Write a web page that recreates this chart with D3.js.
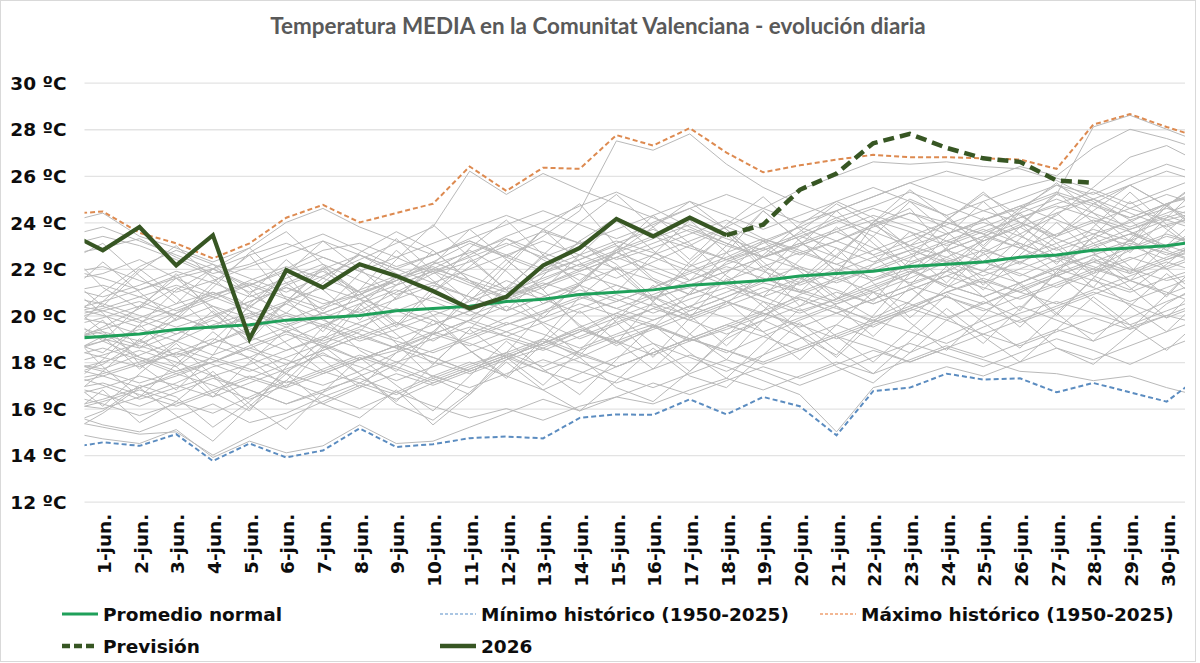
<!DOCTYPE html>
<html>
<head>
<meta charset="utf-8">
<script src="https://cdn.jsdelivr.net/npm/d3@7"></script>
<style>
  html, body { margin: 0; padding: 0; background: #fff; }
  svg { display: block; }
</style>
</head>
<body>
<svg id="chart" width="1200" height="663"></svg>
<script>
// ---------------- DATA ----------------
const title = "Temperatura MEDIA en la Comunitat Valenciana - evolución diaria";
// day 0 = 31-may, day 31 = 1-jul (outside the visible range, clipped at the plot edges)
const days = d3.range(0, 32);
const dayLabels = d3.range(1, 31).map(d => d + "-jun.");
const yTicks = [12, 14, 16, 18, 20, 22, 24, 26, 28, 30];

const normal = [19.0, 19.1, 19.2, 19.4, 19.5, 19.6, 19.8, 19.9, 20.0, 20.2, 20.3, 20.4, 20.6, 20.7, 20.9, 21.0,
                21.1, 21.3, 21.4, 21.5, 21.7, 21.8, 21.9, 22.1, 22.2, 22.3, 22.5, 22.6, 22.8, 22.9, 23.0, 23.2];
const minHist = [14.3, 14.55, 14.4, 14.9, 13.75, 14.5, 13.9, 14.2, 15.15, 14.35, 14.47, 14.73, 14.8, 14.72, 15.6, 15.75,
                 15.73, 16.4, 15.75, 16.5, 16.1, 14.85, 16.75, 16.9, 17.5, 17.25, 17.3, 16.7, 17.1, 16.7, 16.3, 17.5];
const maxHist = [24.35, 24.47, 23.55, 23.1, 22.45, 23.1, 24.2, 24.75, 24.0, 24.4, 24.8, 26.4, 25.35, 26.35, 26.3, 27.75,
                 27.3, 28.05, 27.0, 26.15, 26.45, 26.7, 26.9, 26.8, 26.8, 26.75, 26.7, 26.3, 28.2, 28.65, 28.1, 27.6];
const obs2026Days = d3.range(0, 19);
const obs2026 = [23.6, 22.8, 23.8, 22.15, 23.45, 19.0, 21.95, 21.2, 22.2, 21.7, 21.05, 20.3, 20.8, 22.15, 22.9, 24.15, 23.4, 24.2, 23.45];
const forecastDays = d3.range(18, 29);
const forecast = [23.45, 23.9, 25.4, 26.1, 27.4, 27.8, 27.2, 26.75, 26.6, 25.8, 25.7];

// past years (1950-2025), estimated from the grey bundle
const years = [
 [16.2,16.0,16.5,17.1,17.8,18.2,17.5,17.0,17.6,18.4,19.0,19.5,19.1,18.6,19.3,20.1,20.8,21.2,20.6,20.0,20.9,21.5,22.0,21.4,21.9,22.6,23.1,22.5,22.0,22.8,23.4,23.0],
 [21.5,21.8,22.4,21.6,20.9,21.3,22.0,22.8,23.1,22.5,21.8,22.3,23.0,23.6,23.1,22.4,22.9,23.5,24.1,23.3,22.7,23.2,23.9,24.4,24.0,23.5,24.2,24.8,25.3,24.6,24.1,24.5],
 [18.4,18.9,18.2,17.6,18.0,18.7,19.3,18.8,18.1,18.5,19.2,19.8,20.4,19.7,19.0,19.6,20.3,20.9,21.4,20.8,20.2,20.7,21.5,22.0,21.3,20.8,21.4,22.1,22.6,22.0,21.5,21.9],
 [15.8,15.3,15.0,15.6,16.2,15.4,15.8,16.5,17.1,16.6,17.3,17.9,18.4,17.8,18.5,19.1,19.6,18.9,19.4,20.0,20.7,20.1,19.5,20.3,21.0,21.6,21.0,21.7,22.3,21.8,22.4,22.9],
 [20.1,20.4,19.8,19.2,19.9,20.6,21.2,20.5,20.9,21.6,22.1,21.4,20.8,21.3,22.0,22.7,22.1,21.5,22.2,22.8,23.4,22.9,22.3,22.8,23.5,24.0,23.4,22.8,23.3,24.1,24.6,24.2],
 [15.5,15.2,14.9,15.0,14.0,14.8,15.6,16.3,17.0,16.4,17.1,17.7,18.3,17.6,18.2,18.9,19.5,19.0,18.4,19.1,19.8,20.4,19.7,20.3,21.0,20.5,21.2,21.8,22.4,21.9,22.5,23.1],
 [19.3,19.0,18.6,19.2,19.8,19.1,18.5,19.0,19.7,20.3,19.8,19.2,19.9,20.5,21.1,20.6,21.2,21.9,21.3,20.8,21.4,22.0,21.5,22.2,22.8,22.3,21.7,22.4,23.0,23.5,22.9,23.3],
 [17.9,18.3,18.8,19.4,18.7,18.2,18.9,19.6,20.2,21.0,21.8,22.6,23.4,24.0,24.7,25.3,24.6,23.8,23.1,22.5,23.0,23.6,22.9,22.3,22.8,23.4,24.0,23.3,22.7,23.2,23.9,24.3],
 [16.8,17.1,16.6,16.1,16.7,17.3,16.8,16.2,16.9,17.5,17.0,17.6,18.2,17.6,17.1,17.8,18.4,19.0,18.5,18.0,18.6,19.2,19.8,19.3,18.8,19.5,20.1,20.6,20.1,19.6,20.2,20.8],
 [22.6,22.9,23.3,22.5,21.8,22.2,22.9,23.5,22.8,22.1,22.6,23.2,22.5,21.9,22.4,23.1,23.7,23.0,22.4,22.9,23.5,24.2,23.6,23.0,23.5,24.1,24.7,24.1,23.5,24.0,24.8,25.2],
 [18.0,17.7,18.3,18.9,19.6,20.1,19.5,18.9,19.5,20.2,20.8,20.2,19.6,20.1,20.7,21.3,20.8,20.2,20.8,21.5,22.1,21.6,21.0,21.6,22.3,22.8,22.3,21.7,22.3,22.9,23.5,23.0],
 [19.8,20.2,20.6,20.0,19.4,19.9,20.5,19.8,19.2,18.6,18.0,17.5,18.1,18.6,18.0,17.4,16.9,17.5,18.1,17.6,17.0,17.6,18.2,18.8,18.3,17.8,18.4,19.0,18.5,17.9,18.6,19.2],
 [17.2,17.5,18.0,18.6,18.1,17.6,18.2,18.8,19.4,18.9,18.4,19.0,19.6,20.2,20.8,20.3,19.8,20.4,21.0,21.6,21.1,20.6,21.2,21.8,22.4,21.9,21.4,22.0,22.6,23.1,22.7,22.2],
 [20.5,20.2,19.7,20.3,20.9,21.4,20.8,20.3,20.9,21.5,22.0,21.5,21.0,21.6,22.2,22.8,23.4,22.9,22.4,23.1,23.8,24.5,25.1,25.7,26.2,25.8,26.4,26.0,27.2,28.0,27.6,27.1],
 [18.6,18.2,17.8,18.4,19.0,18.5,17.9,18.5,19.1,19.7,19.2,18.7,19.3,19.9,20.5,20.0,19.5,20.2,20.8,21.4,21.0,20.5,21.1,21.8,22.5,23.2,23.9,25.2,28.1,28.6,28.0,27.4],
 [16.5,16.9,17.4,17.0,16.5,17.1,17.7,18.3,17.8,17.2,17.8,18.4,19.0,18.5,19.1,19.7,20.3,19.8,19.2,19.8,20.4,21.0,20.5,21.1,21.7,21.2,20.7,21.3,21.9,22.5,22.0,22.6],
 [23.0,23.4,23.0,22.4,21.7,21.0,21.6,22.2,21.5,20.9,21.4,20.8,20.2,20.8,21.3,20.7,20.1,20.7,21.2,20.6,20.1,20.7,21.3,21.9,21.3,20.8,21.4,22.0,21.5,21.0,21.6,22.1],
 [19.0,19.4,19.9,20.5,21.0,20.4,19.8,20.4,21.1,21.7,22.3,21.7,21.1,21.8,22.4,23.0,22.5,21.9,22.5,23.2,23.8,23.2,22.6,23.2,23.9,24.5,24.0,23.4,24.0,24.6,25.2,24.7],
 [17.5,17.0,16.4,16.9,17.4,16.8,16.2,16.8,17.3,16.7,16.1,15.6,16.0,15.5,16.1,16.5,16.2,16.8,17.3,16.8,17.4,18.0,17.5,18.1,18.7,18.2,18.8,19.4,18.9,19.5,20.0,19.6],
 [21.0,21.3,20.8,20.2,20.8,21.5,22.1,21.6,21.0,21.5,22.2,22.7,23.3,22.7,22.1,22.7,23.3,23.9,23.3,22.8,23.4,24.0,24.6,24.1,23.5,24.1,24.7,25.3,24.8,24.2,24.8,25.4],
 [18.2,18.6,18.1,17.5,18.0,18.6,19.2,18.7,18.1,18.7,19.3,18.8,18.2,18.8,19.5,20.1,19.6,19.0,19.6,20.2,20.8,20.3,19.8,20.4,21.0,21.5,21.0,20.5,21.1,21.7,22.3,21.8],
 [20.2,20.6,21.1,21.7,22.2,21.6,21.0,21.7,22.4,23.1,23.8,26.2,25.2,26.1,25.4,24.8,24.2,23.6,23.0,22.5,23.0,23.6,24.1,23.6,23.0,23.6,24.2,24.7,24.2,23.7,24.2,24.7],
 [17.0,16.6,16.1,16.7,17.3,16.8,16.2,16.7,17.4,18.0,17.4,16.9,17.5,18.1,17.6,17.1,17.7,18.3,17.8,17.2,16.6,15.0,16.9,17.3,17.8,17.4,18.0,18.6,18.1,18.7,19.3,19.9],
 [15.0,14.7,14.5,15.1,13.9,14.6,14.1,14.4,15.3,14.5,14.6,15.2,15.8,16.4,15.9,16.5,17.1,16.6,17.2,17.8,17.3,17.9,18.5,18.0,18.6,19.2,18.7,19.3,19.9,19.4,20.0,20.6],
 [19.6,19.2,18.7,18.2,18.8,19.4,20.0,19.5,18.9,19.4,20.0,20.6,21.2,20.7,20.1,20.6,21.2,21.8,22.4,21.9,21.3,21.9,22.5,23.0,22.5,21.9,22.5,23.1,23.7,23.2,22.6,23.2],
 [21.8,22.1,21.5,21.0,21.5,22.1,22.6,23.2,22.6,22.0,22.6,23.3,23.9,24.5,23.9,23.3,23.9,24.6,25.2,24.6,24.0,24.5,25.1,25.7,25.1,24.5,25.0,25.6,25.2,25.9,26.5,26.0],
 [17.6,18.0,18.5,18.0,17.4,17.9,18.5,19.1,18.6,18.0,18.5,19.1,19.7,19.2,18.6,19.2,19.8,20.4,19.9,19.3,19.9,20.5,21.0,20.5,19.9,20.5,21.1,21.7,21.2,20.6,21.2,21.8],
 [18.8,19.5,20.3,21.2,20.4,19.5,20.5,21.6,22.6,21.8,21.0,22.1,23.3,22.4,21.5,22.7,23.8,24.9,23.7,22.5,23.6,24.8,23.9,23.0,24.1,25.2,24.3,23.4,24.5,25.6,24.7,25.8],
 [20.8,20.5,20.0,19.5,20.0,20.6,21.2,20.7,20.1,20.7,21.3,20.8,20.2,20.8,21.4,22.0,21.5,20.9,21.5,22.1,22.7,22.2,21.6,22.2,22.8,23.4,22.9,22.3,22.9,23.5,24.1,23.6],
 [24.0,24.4,23.4,22.9,22.3,22.9,24.0,24.6,23.8,23.2,22.6,23.2,22.6,22.0,22.6,23.2,22.7,22.1,22.7,23.3,22.8,22.2,22.8,23.4,24.0,23.5,22.9,23.5,24.1,23.6,23.0,23.6],
 [19.5,19.9,20.4,20.0,19.4,20.0,20.6,21.2,20.7,21.5,22.3,23.1,22.5,23.4,24.5,27.5,27.1,27.8,26.5,25.5,24.8,24.2,24.7,25.3,24.7,24.1,24.6,25.2,24.7,24.2,24.8,25.3],
 [18.5,18.9,19.4,18.9,18.3,18.9,19.5,20.1,19.6,19.0,19.6,20.2,20.8,21.5,22.2,21.6,22.3,23.0,23.8,24.6,25.4,26.0,26.6,26.5,26.6,26.4,26.3,25.8,25.0,25.6,26.2,25.7],
 [16.0,16.4,16.9,17.5,17.0,16.4,17.0,17.6,18.2,17.7,17.1,17.7,18.3,18.9,18.3,17.8,18.4,19.0,19.6,19.1,18.5,19.1,19.7,20.3,19.8,19.2,19.8,20.4,21.0,20.5,19.9,20.5],
 [22.0,21.6,21.1,21.6,22.0,21.3,21.9,22.5,21.9,21.3,21.9,22.5,23.1,22.5,21.9,22.5,23.1,23.7,23.1,22.5,23.1,23.7,24.3,23.8,23.2,23.8,24.4,25.0,24.4,23.8,24.4,25.0],
 [17.8,17.4,16.9,17.4,18.0,18.6,18.1,17.5,18.1,18.7,18.2,17.6,18.2,18.8,19.4,18.9,18.3,18.9,19.5,20.1,19.6,19.0,19.6,20.2,20.8,20.3,19.7,20.3,20.9,21.5,21.0,20.4],
 [19.0,19.3,18.9,18.3,18.8,19.5,20.1,19.6,19.0,19.6,20.2,19.7,19.1,19.7,20.3,20.9,20.4,19.8,20.4,21.0,21.6,21.1,20.5,21.1,21.7,22.3,21.8,21.2,21.8,22.4,23.0,22.5],
 [20.0,19.7,19.2,19.8,20.4,19.9,19.3,19.9,20.5,21.1,20.6,20.0,20.6,21.2,21.8,21.3,20.7,21.3,21.9,22.5,22.0,21.4,22.0,22.6,23.2,22.7,23.5,24.3,25.5,26.8,27.3,26.5],
 [15.9,16.3,16.8,16.3,15.8,16.5,17.2,16.6,16.0,16.7,17.4,18.0,17.4,16.8,17.5,18.2,18.8,18.2,17.6,18.3,19.0,19.6,19.0,18.4,19.1,19.8,20.4,19.8,19.2,19.9,20.6,21.2],
 [21.2,20.8,21.3,21.9,21.4,20.8,21.4,22.0,22.6,22.0,21.4,22.0,22.6,23.2,22.6,22.0,22.6,23.2,23.8,23.2,22.6,23.2,23.8,24.4,23.8,23.2,23.8,24.4,25.0,24.4,23.8,24.4],
 [18.0,17.6,17.1,17.6,18.2,17.7,17.1,17.7,18.3,17.8,17.2,17.8,18.4,19.0,18.4,17.8,18.4,19.0,18.5,17.9,18.5,19.1,18.6,18.0,18.6,18.1,17.6,17.5,17.2,17.4,16.9,16.5],
 [20.4,20.0,19.5,20.1,20.7,21.3,20.7,20.1,20.7,21.3,21.9,21.3,20.7,21.3,21.9,22.5,21.9,21.3,21.9,22.5,23.1,22.5,21.9,22.5,23.1,23.7,23.1,22.5,23.1,23.7,24.3,23.7],
 [17.0,17.4,17.9,18.4,17.9,17.3,17.9,18.5,19.1,18.6,19.2,19.8,19.3,18.7,19.3,19.9,20.5,20.0,20.6,21.2,20.7,20.1,20.7,21.3,21.9,21.4,22.0,22.6,22.1,21.5,22.1,22.7],
 [19.9,20.3,20.8,21.3,20.8,20.2,19.6,20.1,20.7,20.2,19.6,20.2,20.8,21.4,20.9,20.3,20.9,21.5,22.1,21.6,21.0,21.6,22.2,22.8,22.3,21.7,22.3,22.9,23.5,23.0,22.4,23.0],
 [16.6,16.2,15.7,16.2,16.8,17.4,16.9,17.5,18.1,18.7,18.2,17.6,18.2,18.8,19.4,18.8,19.4,20.0,20.6,20.1,19.5,20.1,20.7,21.3,20.8,20.2,20.8,21.4,22.0,21.5,20.9,21.5],
 [23.4,23.8,23.2,22.6,22.0,22.6,23.1,22.5,21.9,22.5,23.1,23.7,24.3,23.7,23.1,23.7,24.3,24.9,24.3,23.7,24.3,24.9,25.5,24.9,24.3,24.9,25.5,25.9,25.4,24.8,25.4,26.0],
 [18.7,19.8,17.9,16.8,18.3,20.5,21.8,19.9,18.5,17.6,19.2,21.0,22.4,21.1,19.5,18.8,20.6,22.3,23.5,22.0,20.4,21.7,23.9,24.6,22.8,21.3,22.9,24.4,23.1,21.8,23.6,24.9],
 [21.3,20.1,18.6,19.9,21.4,22.6,20.7,19.3,21.1,22.8,21.5,20.2,22.0,23.7,24.8,23.0,21.6,20.9,22.7,24.5,23.2,21.9,20.6,22.4,24.1,25.3,24.0,22.5,21.2,23.0,24.7,23.8],
 [16.9,18.1,19.6,18.2,16.7,15.9,17.8,19.5,20.3,18.8,17.3,16.6,18.4,20.1,21.3,19.7,18.2,19.9,21.6,20.4,19.1,18.3,20.0,21.8,22.9,21.5,20.2,21.9,23.4,22.1,20.8,22.5],
 [19.4,17.8,16.5,17.9,19.3,18.1,16.9,18.6,20.4,21.7,20.0,18.5,17.4,19.0,20.8,22.1,20.6,19.2,18.1,19.8,21.5,22.9,21.4,19.9,21.2,22.7,21.3,20.0,21.6,23.3,22.0,20.7],
 [22.8,21.2,20.3,21.8,20.1,18.9,20.6,22.1,21.0,19.6,21.2,22.9,24.1,22.6,21.3,22.8,24.3,23.1,21.7,20.8,22.4,23.8,22.6,21.3,22.9,24.2,23.0,21.8,23.4,24.9,23.7,22.6],
 [15.6,16.8,15.4,16.3,17.6,16.2,15.1,16.7,18.2,17.0,15.9,17.4,18.9,17.7,16.6,18.1,19.6,18.4,17.3,18.8,20.3,19.1,18.0,19.4,20.9,19.7,18.6,20.1,21.6,20.4,19.3,20.8],
 [20.9,22.3,21.0,19.8,21.2,22.7,23.6,22.2,20.8,22.4,23.9,22.5,21.1,22.6,24.0,25.2,23.8,22.4,23.9,25.1,23.7,22.5,24.0,25.4,24.2,23.0,24.5,25.7,24.4,23.2,24.7,25.9],
 [17.3,16.1,17.5,18.8,17.4,16.0,17.2,18.7,17.5,16.3,17.9,19.4,18.2,17.0,18.5,20.0,18.8,17.6,19.1,20.6,19.4,18.2,19.7,21.2,20.0,18.8,20.3,21.8,20.6,19.4,20.9,22.4],
 [19.1,20.6,22.0,20.8,19.4,20.9,22.4,21.1,19.8,21.3,22.8,21.5,20.2,21.7,23.2,21.9,20.6,22.1,23.6,22.3,21.0,22.5,24.0,22.7,21.4,22.9,24.4,23.1,21.8,23.3,24.8,23.5],
 [14.9,15.8,16.9,15.7,14.6,16.1,17.5,16.2,15.6,16.8,15.3,16.6,18.0,16.8,15.9,17.2,18.6,17.4,16.9,18.3,19.7,18.5,17.5,18.9,20.3,19.1,18.0,19.4,20.8,19.6,18.5,19.9],
 [21.7,20.4,21.9,23.0,21.6,20.3,21.8,23.2,22.0,20.7,22.2,23.7,22.4,21.1,22.6,24.1,22.8,21.5,23.0,24.5,23.2,21.9,23.4,24.9,23.6,22.3,23.8,25.3,24.0,22.7,24.2,25.7],
 [18.3,19.1,17.7,18.9,20.2,18.8,17.5,19.0,20.5,19.2,17.9,19.4,20.9,19.6,18.3,19.8,21.3,20.0,18.7,20.2,21.7,20.4,19.1,20.6,22.1,20.8,19.5,21.0,22.5,21.2,19.9,21.4],
 [20.0,18.9,20.4,21.6,20.3,19.1,20.6,22.0,20.7,19.5,21.0,22.4,21.1,19.9,21.4,22.8,21.5,20.3,21.8,23.2,21.9,20.7,22.2,23.6,22.3,21.1,22.6,24.0,22.7,21.5,23.0,24.4],
 [16.3,17.6,19.0,17.8,16.5,18.0,19.4,18.1,16.9,18.4,19.8,18.5,17.3,18.8,20.2,18.9,17.7,19.2,20.6,19.3,18.1,19.6,21.0,19.7,18.5,20.0,21.4,20.1,18.9,20.4,21.8,20.5],
 [22.3,23.1,21.7,20.5,22.0,22.9,21.4,20.2,21.8,23.3,21.9,20.6,22.2,23.7,22.3,21.0,22.6,24.1,22.7,21.4,23.0,24.5,23.1,21.8,23.4,24.9,23.5,22.2,23.8,25.3,23.9,22.6],
 [17.4,17.9,18.9,20.1,21.0,20.2,18.8,17.6,17.1,17.9,19.3,20.7,21.5,20.9,19.6,18.7,19.5,21.0,22.3,22.9,22.1,20.8,19.9,20.6,21.9,23.2,23.8,22.9,21.7,21.1,22.2,23.5],
 [20.6,19.3,18.2,17.8,18.9,20.4,21.3,21.9,21.0,19.7,18.9,19.8,21.2,22.5,23.1,22.2,20.8,19.9,20.5,21.8,23.3,24.1,23.4,22.0,21.2,21.9,23.3,24.6,25.0,24.1,22.8,22.2],
 [18.9,18.4,19.6,21.1,22.0,21.2,19.7,18.6,19.3,20.8,22.0,22.8,21.9,20.5,21.3,22.9,24.0,24.6,23.7,22.1,21.4,22.6,24.0,25.0,24.3,22.9,22.2,23.4,24.8,25.6,24.7,23.5],
 [15.3,15.9,17.0,16.5,15.2,16.3,17.6,18.4,17.5,16.2,15.5,16.7,18.1,19.0,18.2,16.9,16.3,17.6,19.0,19.8,19.1,17.8,17.1,18.4,19.8,20.6,19.9,18.6,17.9,19.2,20.5,21.4],
 [19.7,21.0,22.1,22.8,22.2,20.9,20.1,21.4,22.7,23.6,22.8,21.5,20.7,21.9,23.2,24.2,23.5,22.2,21.4,22.6,23.9,24.9,24.2,22.9,22.1,23.3,24.6,25.6,24.9,23.6,22.8,24.0]
];

const legendLabels = ["Promedio normal", "Mínimo histórico (1950-2025)", "Máximo histórico (1950-2025)", "Previsión", "2026"];

// ---------------- DRAW ----------------
const svg = d3.select("#chart");
const W = 1200, H = 663;
const FONT = "'DejaVu Sans', Verdana, sans-serif";

svg.append("rect").attr("x", 0.5).attr("y", 0.5).attr("width", 1195).attr("height", 661)
   .attr("fill", "#fff").attr("stroke", "#d9d9d9").attr("stroke-width", 1);

const plot = { left: 84.5, right: 1185, top: 82.7, bottom: 501.7 };
const x = d3.scaleLinear().domain([0.5, 30.5]).range([plot.left, plot.right]);
const y = d3.scaleLinear().domain([12, 30]).range([plot.bottom, plot.top]);

// title
const t = svg.append("text").attr("x", 598).attr("y", 34).attr("text-anchor", "middle")
  .attr("font-family", "Lato, 'Open Sans', sans-serif").attr("font-weight", "bold")
  .attr("font-size", 22).attr("fill", "#595959").text(title);
const tw = t.node().getComputedTextLength();
t.attr("font-size", 22 * 656 / tw);

// grid
const yAxis = d3.axisLeft(y).tickValues(yTicks).tickSize(-(plot.right - plot.left)).tickFormat(d => d + " ºC").tickPadding(18);
const gy = svg.append("g").attr("transform", `translate(${plot.left},0)`).call(yAxis);
gy.select(".domain").remove();
gy.selectAll(".tick line").attr("stroke", "#e3e3e3").attr("stroke-width", 1.3);
gy.selectAll(".tick text").attr("font-family", FONT).attr("font-weight", "bold")
  .attr("font-size", 18.5).attr("fill", "#0d0d0d").attr("dy", "0.36em");

// x labels
const xAxis = d3.axisBottom(x).tickValues(d3.range(1, 31)).tickSize(0).tickFormat((d, i) => dayLabels[i]);
const gx = svg.append("g").attr("transform", `translate(0,${plot.bottom})`).call(xAxis);
gx.select(".domain").remove();
gx.selectAll(".tick text")
  .attr("font-family", FONT).attr("font-weight", "bold").attr("font-size", 18.5).attr("fill", "#0d0d0d")
  .attr("text-anchor", "end").attr("transform", "translate(1,12) rotate(-90)")
  .attr("x", 0).attr("y", 0).attr("dy", "0.36em");

// clip
svg.append("clipPath").attr("id", "clip").append("rect")
  .attr("x", plot.left).attr("y", 0).attr("width", plot.right - plot.left).attr("height", H);
const g = svg.append("g").attr("clip-path", "url(#clip)");

const line = d3.line().x(d => x(d[0])).y(d => y(d[1]));
const zipDays = (ds, vs) => ds.map((d, i) => [d, vs[i]]);

g.selectAll("path.year").data(years).join("path").attr("class", "year")
  .attr("d", v => line(zipDays(days, v)))
  .attr("fill", "none").attr("stroke", "#b9b9b9").attr("stroke-width", 1);

g.append("path").attr("d", line(zipDays(days, normal)))
  .attr("fill", "none").attr("stroke", "#1fa05a").attr("stroke-width", 3);
g.append("path").attr("d", line(zipDays(days, minHist)))
  .attr("fill", "none").attr("stroke", "#5b8cc0").attr("stroke-width", 2).attr("stroke-dasharray", "5,3");
g.append("path").attr("d", line(zipDays(days, maxHist)))
  .attr("fill", "none").attr("stroke", "#dd8a50").attr("stroke-width", 2).attr("stroke-dasharray", "5,3");
g.append("path").attr("d", line(zipDays(forecastDays, forecast)))
  .attr("fill", "none").attr("stroke", "#375623").attr("stroke-width", 4.5).attr("stroke-dasharray", "11,6");
g.append("path").attr("d", line(zipDays(obs2026Days, obs2026)))
  .attr("fill", "none").attr("stroke", "#375623").attr("stroke-width", 4.2).attr("stroke-linejoin", "miter");

// legend
const legendItems = [
  { label: legendLabels[0], x: 62, y: 614, color: "#1fa05a", w: 3, dash: null },
  { label: legendLabels[1], x: 440, y: 614, color: "#8fb4da", w: 1.5, dash: "3,2" },
  { label: legendLabels[2], x: 820, y: 614, color: "#f0a070", w: 1.5, dash: "3,2" },
  { label: legendLabels[3], x: 62, y: 646, color: "#375623", w: 4.5, dash: "8,4" },
  { label: legendLabels[4], x: 440, y: 646, color: "#375623", w: 4.5, dash: null }
];
const lg = svg.append("g").selectAll("g").data(legendItems).join("g")
  .attr("transform", d => `translate(${d.x},${d.y})`);
lg.append("line").attr("x1", 0).attr("x2", 36).attr("y1", 0).attr("y2", 0)
  .attr("stroke", d => d.color).attr("stroke-width", d => d.w)
  .attr("stroke-dasharray", d => d.dash);
lg.append("text").attr("x", 41).attr("y", 0).attr("dy", "0.36em")
  .attr("font-family", FONT).attr("font-weight", "bold").attr("font-size", 18.5).attr("fill", "#0d0d0d")
  .text(d => d.label);
</script>
</body>
</html>
